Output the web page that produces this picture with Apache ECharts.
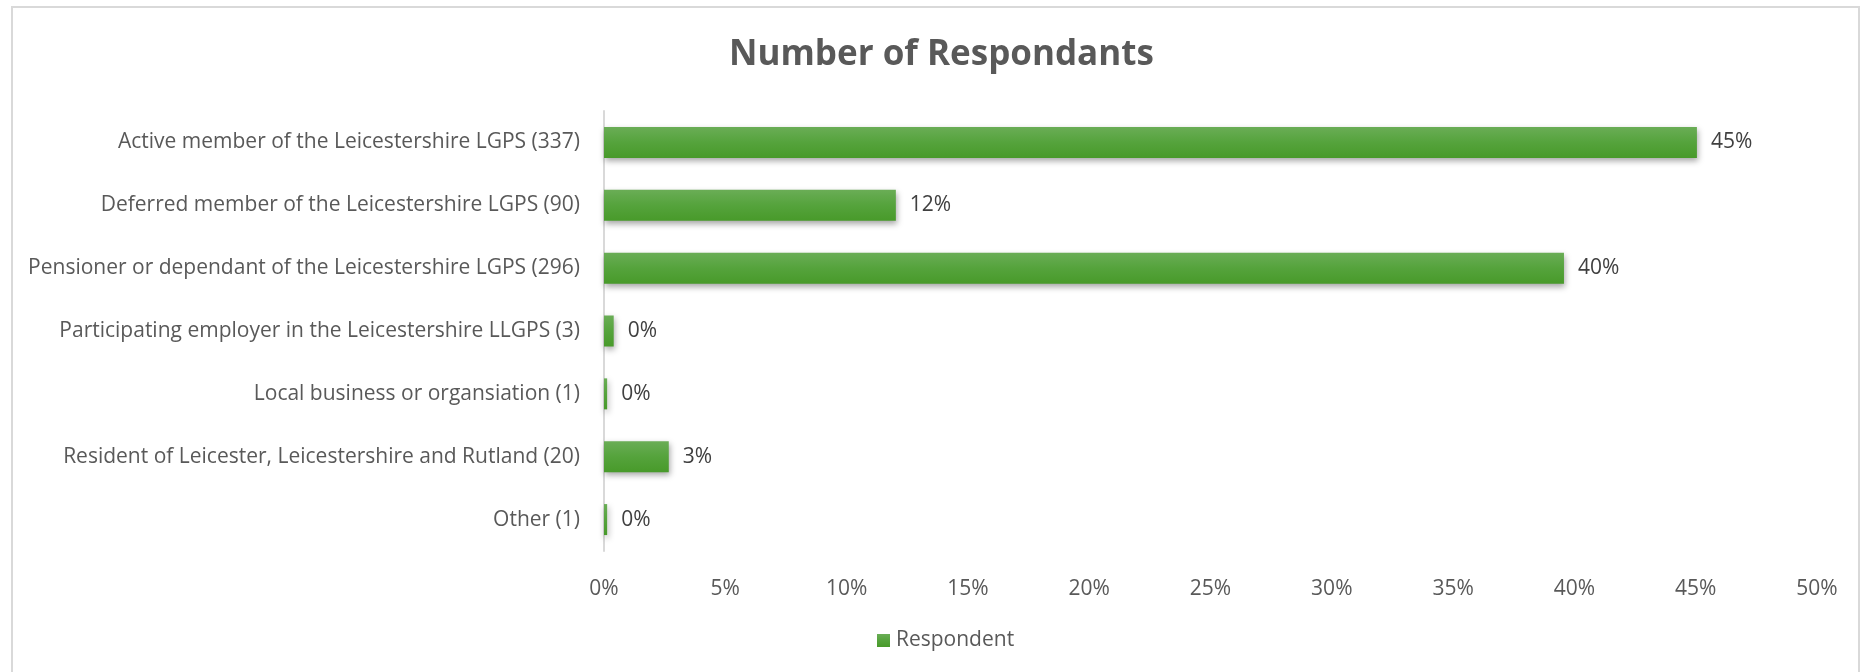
<!DOCTYPE html>
<html>
<head>
<meta charset="utf-8">
<script src="https://cdn.jsdelivr.net/npm/echarts@6/dist/echarts.min.js"></script>
<style>
html,body{margin:0;padding:0;background:#fff;}
#chart{width:1865px;height:672px;}
</style>
</head>
<body>
<div id="chart"></div>
<script>
const categories = [
  "Active member of the Leicestershire LGPS (337)",
  "Deferred member of the Leicestershire LGPS (90)",
  "Pensioner or dependant of the Leicestershire LGPS (296)",
  "Participating employer in the Leicestershire LLGPS (3)",
  "Local business or organsiation (1)",
  "Resident of Leicester, Leicestershire and Rutland (20)",
  "Other (1)"
];
const respondentPct = [45.05, 12.03, 39.57, 0.40, 0.13, 2.67, 0.13];
const xTicks = [0, 5, 10, 15, 20, 25, 30, 35, 40, 45, 50];
const seriesName = "Respondent";
const titleText = "Number of Respondants";

const chart = echarts.init(document.getElementById('chart'));
const FONT = '"Open Sans"';
chart.setOption({
  animation: false,
  title: {
    text: titleText,
    left: 724,
    top: 33,
    textStyle: {fontFamily: FONT, fontSize: 35, fontWeight: 'bold', color: '#595959'}
  },
  legend: {
    data: [seriesName],
    left: 872,
    top: 625,
    itemWidth: 13,
    itemHeight: 13,
    itemGap: 10,
    icon: 'rect',
    textStyle: {fontFamily: FONT, fontSize: 21, color: '#595959', padding: [0, 0, 0, 1]}
  },
  graphic: [{
    type: 'rect',
    shape: {x: 12, y: 7, width: 1847, height: 700},
    style: {fill: 'none', stroke: '#d9d9d9', lineWidth: 2},
    silent: true
  }],
  grid: {left: 604, right: 48, top: 111, bottom: 121, containLabel: false},
  xAxis: {
    type: 'value',
    min: 0, max: 50, interval: 5,
    axisLine: {show: false},
    axisTick: {show: false},
    splitLine: {show: false},
    axisLabel: {
      margin: 28,
      fontFamily: FONT, fontSize: 21, color: '#595959',
      formatter: v => xTicks.includes(v) ? v + '%' : ''
    }
  },
  yAxis: {
    type: 'category',
    inverse: true,
    data: categories,
    axisLine: {show: true, lineStyle: {color: '#d9d9d9', width: 2}},
    axisTick: {show: false},
    axisLabel: {margin: 24, fontFamily: FONT, fontSize: 21, color: '#595959'}
  },
  series: [{
    name: seriesName,
    type: 'bar',
    data: respondentPct,
    barWidth: 31,
    itemStyle: {
      color: new echarts.graphic.LinearGradient(0, 0, 0, 1, [
        {offset: 0, color: '#6aad56'},
        {offset: 0.5, color: '#55a33c'},
        {offset: 1, color: '#489a2a'}
      ]),
      shadowColor: 'rgba(0,0,0,0.35)',
      shadowBlur: 6,
      shadowOffsetX: 1,
      shadowOffsetY: 3
    },
    label: {
      show: true,
      position: 'right',
      distance: 14,
      fontFamily: FONT, fontSize: 21, color: '#404040',
      formatter: p => Math.round(p.value) + '%'
    }
  }]
});
</script>
</body>
</html>
